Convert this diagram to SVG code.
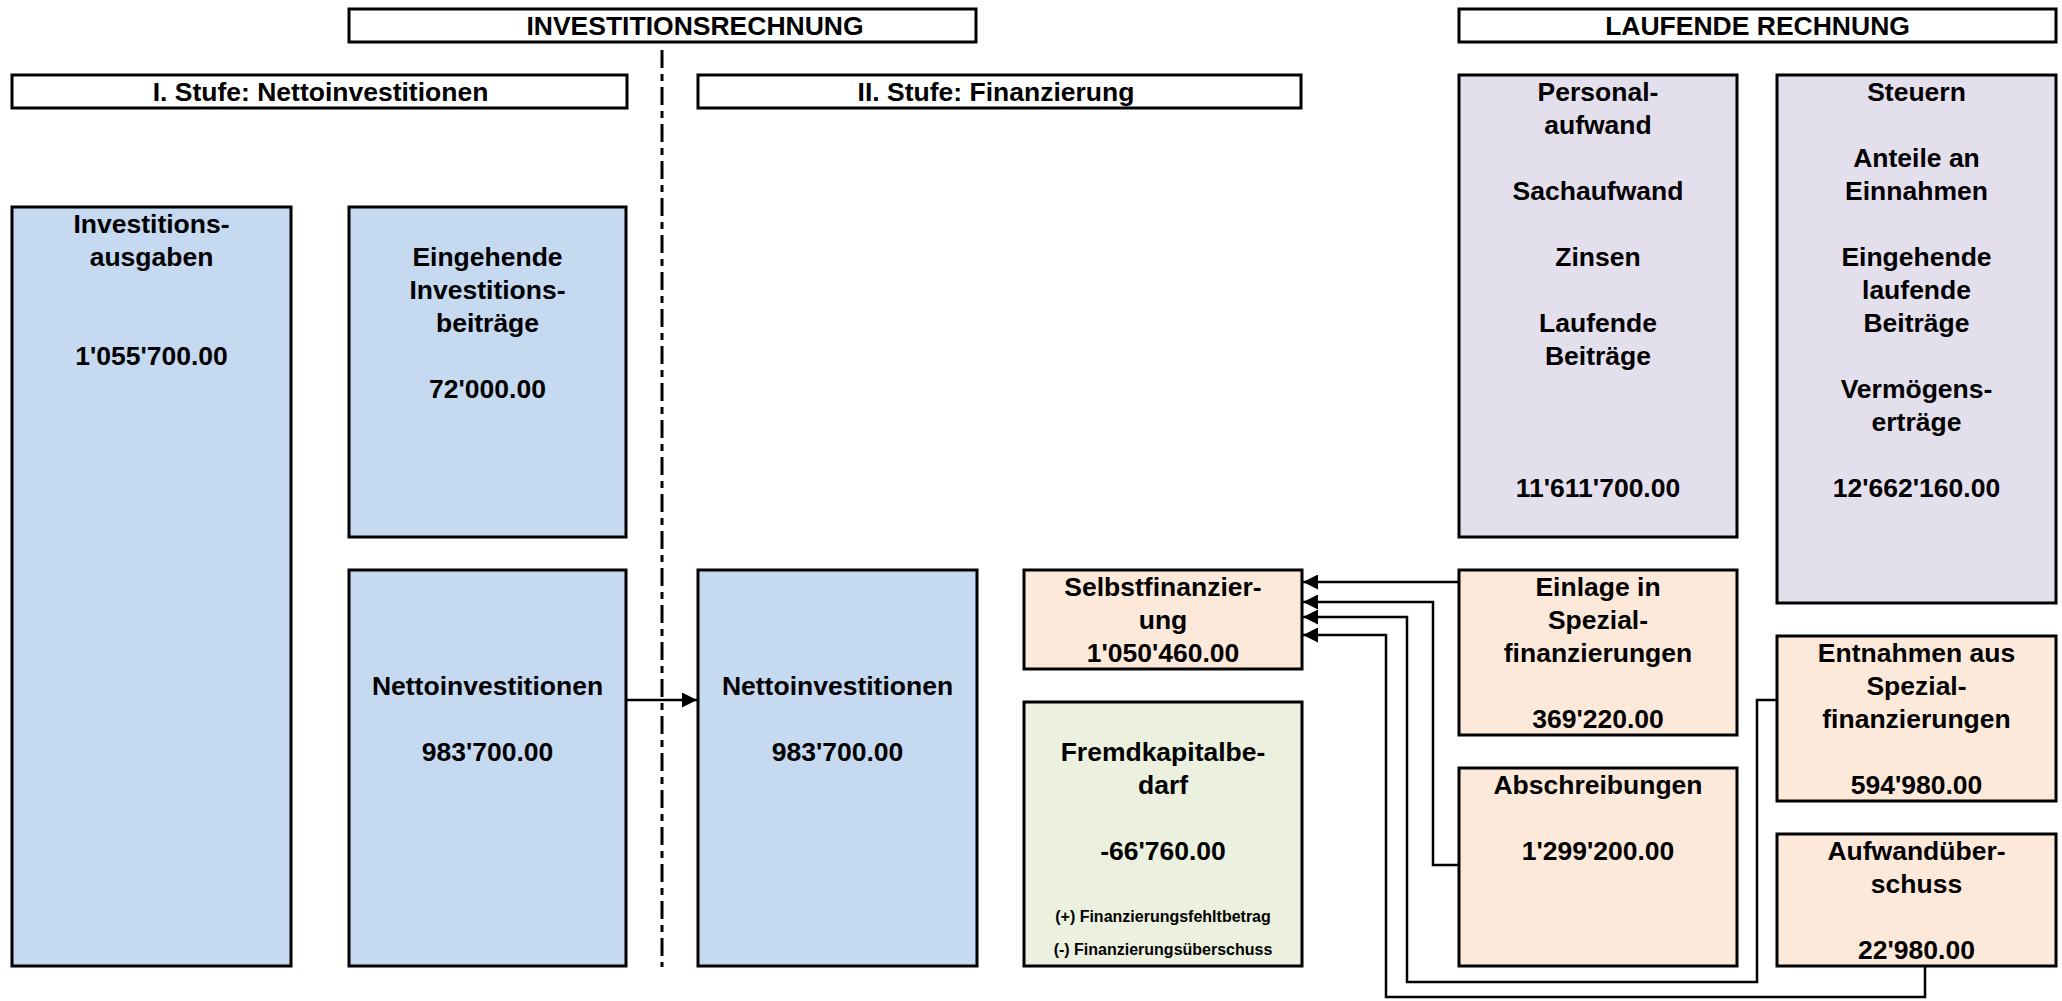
<svg xmlns="http://www.w3.org/2000/svg" width="2062" height="1001" viewBox="0 0 2062 1001">
<style>
  .box { stroke: #000; stroke-width: 3; }
  .hdr { fill: #fff; stroke: #000; stroke-width: 3; }
  .blue { fill: #C5D9F1; }
  .lav { fill: #E4DFEC; }
  .peach { fill: #FDE9D9; }
  .green { fill: #EBF1DE; }
  text { font-family: "Liberation Sans", Arial, sans-serif; font-weight: bold; font-size: 26.5px; fill: #000; text-anchor: middle; }
  text.small { font-size: 16px; }
  .conn { fill: none; stroke: #000; stroke-width: 2.5; }
  .divider { fill: none; stroke: #000; stroke-width: 3; stroke-dasharray: 18 6 7 6; }
</style>
<defs>
  <marker id="arr" markerUnits="userSpaceOnUse" markerWidth="15" markerHeight="15" refX="15" refY="7.5" orient="auto">
    <path d="M0,0 L15,7.5 L0,15 z" fill="#000"/>
  </marker>
</defs>

<g id="header-investitionsrechnung">
  <rect class="hdr" x="349" y="9" width="627" height="33"/>
  <text x="695" y="35">INVESTITIONSRECHNUNG</text>
</g>
<g id="header-laufende-rechnung">
  <rect class="hdr" x="1459" y="9" width="597" height="33"/>
  <text x="1757.5" y="35">LAUFENDE RECHNUNG</text>
</g>
<g id="header-stufe1">
  <rect class="hdr" x="12" y="75" width="615" height="33"/>
  <text x="320.5" y="101">I. Stufe: Nettoinvestitionen</text>
</g>
<g id="header-stufe2">
  <rect class="hdr" x="698" y="75" width="603" height="33"/>
  <text x="996" y="101">II. Stufe: Finanzierung</text>
</g>

<path id="divider" class="divider" d="M662,50 V967"/>

<g id="investitionsausgaben">
  <rect class="box blue" x="12" y="207" width="279" height="759"/>
  <text x="151.5" y="233">Investitions-</text>
  <text x="151.5" y="266">ausgaben</text>
  <text x="151.5" y="365">1'055'700.00</text>
</g>
<g id="eingehende-investitionsbeitraege">
  <rect class="box blue" x="349" y="207" width="277" height="330"/>
  <text x="487.5" y="266">Eingehende</text>
  <text x="487.5" y="299">Investitions-</text>
  <text x="487.5" y="332">beiträge</text>
  <text x="487.5" y="398">72'000.00</text>
</g>
<g id="nettoinvestitionen-1">
  <rect class="box blue" x="349" y="570" width="277" height="396"/>
  <text x="487.5" y="695">Nettoinvestitionen</text>
  <text x="487.5" y="761">983'700.00</text>
</g>
<g id="nettoinvestitionen-2">
  <rect class="box blue" x="698" y="570" width="279" height="396"/>
  <text x="837.5" y="695">Nettoinvestitionen</text>
  <text x="837.5" y="761">983'700.00</text>
</g>
<g id="selbstfinanzierung">
  <rect class="box peach" x="1024" y="570" width="278" height="99"/>
  <text x="1163" y="596">Selbstfinanzier-</text>
  <text x="1163" y="629">ung</text>
  <text x="1163" y="662">1'050'460.00</text>
</g>
<g id="fremdkapitalbedarf">
  <rect class="box green" x="1024" y="702" width="278" height="264"/>
  <text x="1163" y="761">Fremdkapitalbe-</text>
  <text x="1163" y="794">darf</text>
  <text x="1163" y="860">-66'760.00</text>
  <text class="small" x="1163" y="922">(+) Finanzierungsfehltbetrag</text>
  <text class="small" x="1163" y="955">(-) Finanzierungsüberschuss</text>
</g>
<g id="aufwand">
  <rect class="box lav" x="1459" y="75" width="278" height="462"/>
  <text x="1598" y="101">Personal-</text>
  <text x="1598" y="134">aufwand</text>
  <text x="1598" y="200">Sachaufwand</text>
  <text x="1598" y="266">Zinsen</text>
  <text x="1598" y="332">Laufende</text>
  <text x="1598" y="365">Beiträge</text>
  <text x="1598" y="497">11'611'700.00</text>
</g>
<g id="ertrag">
  <rect class="box lav" x="1777" y="75" width="279" height="528"/>
  <text x="1916.5" y="101">Steuern</text>
  <text x="1916.5" y="167">Anteile an</text>
  <text x="1916.5" y="200">Einnahmen</text>
  <text x="1916.5" y="266">Eingehende</text>
  <text x="1916.5" y="299">laufende</text>
  <text x="1916.5" y="332">Beiträge</text>
  <text x="1916.5" y="398">Vermögens-</text>
  <text x="1916.5" y="431">erträge</text>
  <text x="1916.5" y="497">12'662'160.00</text>
</g>
<g id="einlage-spezialfinanzierungen">
  <rect class="box peach" x="1459" y="570" width="278" height="165"/>
  <text x="1598" y="596">Einlage in</text>
  <text x="1598" y="629">Spezial-</text>
  <text x="1598" y="662">finanzierungen</text>
  <text x="1598" y="728">369'220.00</text>
</g>
<g id="abschreibungen">
  <rect class="box peach" x="1459" y="768" width="278" height="198"/>
  <text x="1598" y="794">Abschreibungen</text>
  <text x="1598" y="860">1'299'200.00</text>
</g>
<g id="entnahmen-spezialfinanzierungen">
  <rect class="box peach" x="1777" y="636" width="279" height="165"/>
  <text x="1916.5" y="662">Entnahmen aus</text>
  <text x="1916.5" y="695">Spezial-</text>
  <text x="1916.5" y="728">finanzierungen</text>
  <text x="1916.5" y="794">594'980.00</text>
</g>
<g id="aufwandueberschuss">
  <rect class="box peach" x="1777" y="834" width="279" height="132"/>
  <text x="1916.5" y="860">Aufwandüber-</text>
  <text x="1916.5" y="893">schuss</text>
  <text x="1916.5" y="959">22'980.00</text>
</g>

<g id="connectors">
  <path class="conn" d="M626,700 H697" marker-end="url(#arr)"/>
  <path class="conn" d="M1458,582 H1303" marker-end="url(#arr)"/>
  <path class="conn" d="M1458,865 H1433 V602 H1303" marker-end="url(#arr)"/>
  <path class="conn" d="M1777,700 H1757 V982 H1407 V617 H1303" marker-end="url(#arr)"/>
  <path class="conn" d="M1925,966 V997 H1386 V635 H1303" marker-end="url(#arr)"/>
</g>
</svg>
